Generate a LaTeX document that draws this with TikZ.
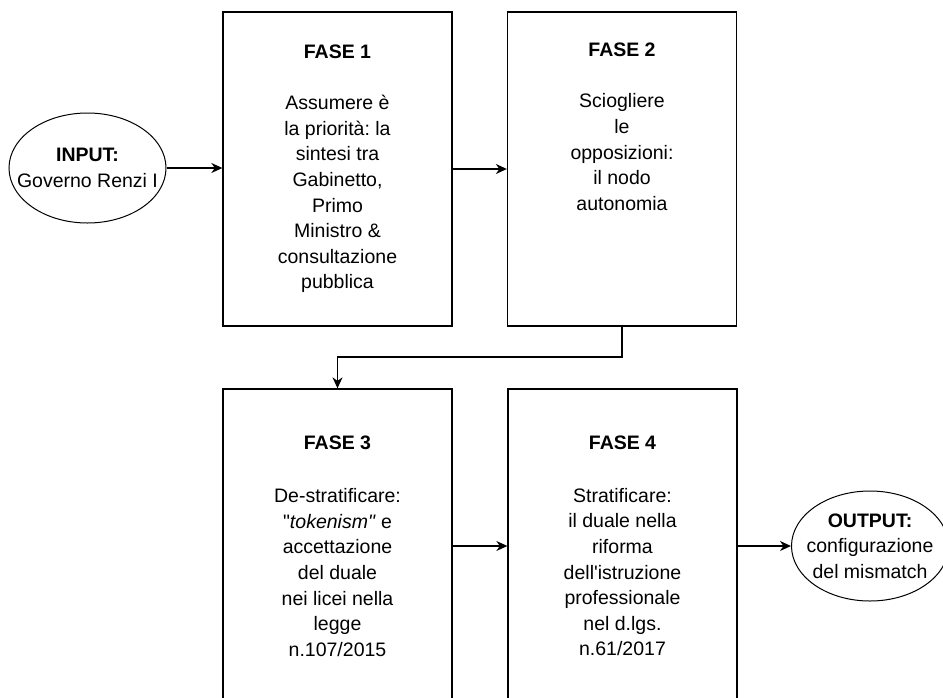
\documentclass[tikz,border=0pt]{standalone}
\usepackage{fontspec}
\newfontfamily\helv{Liberation Sans}
\usetikzlibrary{shapes.geometric,arrows.meta}
\frenchspacing
\begin{document}
\begin{tikzpicture}[x=1pt,y=-1pt,
  txt/.style={font=\helv\fontsize{19.5}{25.6}\selectfont, text=black, align=center},
  phase/.style={txt, draw=black, line width=1.3pt, minimum width=229pt,
    minimum height=314pt, inner sep=0pt},
  term/.style={draw=black, ellipse, line width=1pt, minimum width=157pt,
    minimum height=110pt, inner sep=0pt},
  flow/.style={draw=black, line width=1.3pt,
    -{Stealth[length=11pt,width=10pt,inset=3.5pt]}}]

% page
\fill[white] (0,0) rectangle (943,697);
\useasboundingbox (0,0) rectangle (943,697);

% phases
\node[phase] (f1) at (337.5,169) {\textbf{FASE 1}\\[25.6pt]
  Assumere è\\la priorità: la\\sintesi tra\\Gabinetto,\\Primo\\Ministro \&\\consultazione\\pubblica};
\node[phase] (f2) at (622,169) {\textbf{FASE 2}\\[25.6pt]
  Sciogliere\\le\\opposizioni:\\il nodo\\autonomia\\[51.2pt]\strut};
\node[phase] (f3) at (337.5,546) {\textbf{FASE 3}\\[28pt]
  De-stratificare:\\"\textit{tokenism"} e\\accettazione\\del duale\\nei licei nella\\legge\\n.107/2015};
\node[phase] (f4) at (622.5,546) {\textbf{FASE 4}\\[27pt]
  Stratificare:\\il duale nella\\riforma\\dell'istruzione\\professionale\\nel d.lgs.\\n.61/2017};

% input / output
\node[term, label={[txt]center:{\textbf{INPUT:}\\Governo Renzi I}}] (in) at (87.5,168) {};
\node[term, label={[txt]center:{\textbf{OUTPUT:}\\configurazione\\del mismatch}}] (out) at (870,546) {};

% connectors
\coordinate (bend) at (0,357);
\draw[flow] (in.east) -- (in.east -| f1.west);
\draw[flow] (f1) -- (f2);
\draw[flow] (f2.south) -- (f2.south |- bend) -| (f3.north);
\draw[flow] (f3) -- (f4);
\draw[flow] (f4) -- (out);
\end{tikzpicture}
\end{document}
